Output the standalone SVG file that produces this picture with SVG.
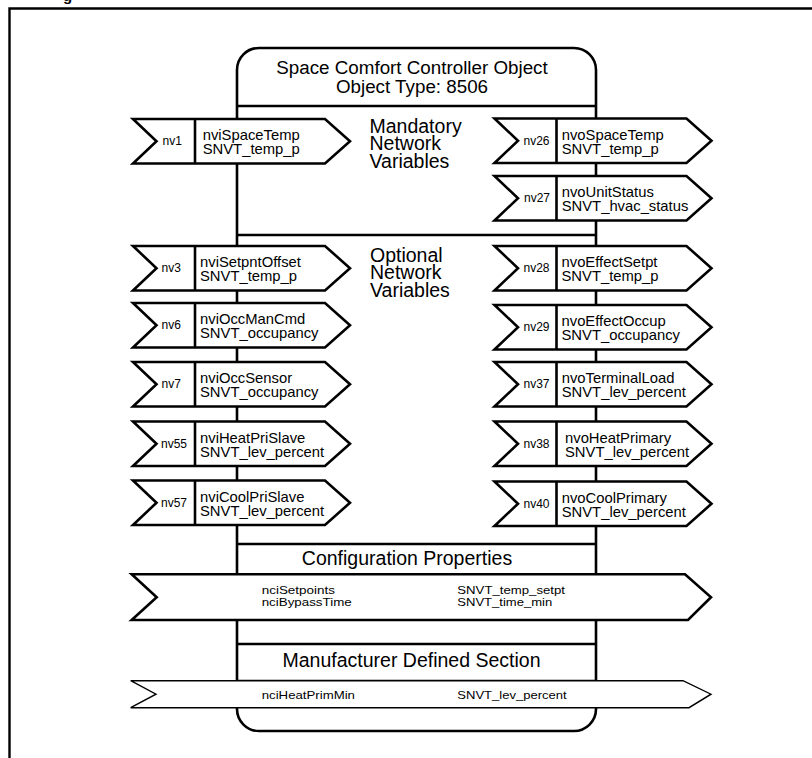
<svg xmlns="http://www.w3.org/2000/svg" width="812" height="758" viewBox="0 0 812 758">
<style>
  text { font-family: "Liberation Sans", Arial, Helvetica, sans-serif; fill: #000; }
  .frame { fill: none; stroke: #000; stroke-width: 2.4; }
  .box { fill: #fff; stroke: #000; stroke-width: 2.6; }
  .rule { stroke: #000; stroke-width: 2.6; }
  .nv { fill: #fff; stroke: #000; stroke-width: 2.6; stroke-linejoin: miter; }
  .thin { fill: #fff; stroke: #000; stroke-width: 1.4; stroke-linejoin: miter; }
  .hd { font-size: 18.8px; text-anchor: middle; }
  .sec { font-size: 19.5px; }
  .mid { text-anchor: middle; }
  .lab { font-size: 12px; }
  .nm { font-size: 14.8px; }
  .ci { font-size: 10.5px; }
</style>
<defs>
  <!-- network variable tag: notched tail, pointed head, index cell -->
  <g id="nvShape">
    <path class="nv" d="M0,0H192L217,22.25L192,44.5H0L23.5,22.25Z"/>
    <line class="rule" x1="62" y1="0" x2="62" y2="44.5"/>
  </g>
</defs>

<!-- page frame -->
<g id="frame">
  <path class="frame" d="M9.5,758V8.5H812"/>
  <text x="63" y="0.5" style="font-size:15px;font-weight:bold">g</text>
</g>

<!-- object body with section rules -->
<g id="object">
  <path class="box" d="M259,48H574A22,22 0 0 1 596,70V709A22,22 0 0 1 574,731H259A22,22 0 0 1 237,709V70A22,22 0 0 1 259,48Z"/>
  <line class="rule" x1="237" y1="106" x2="596" y2="106"/>
  <line class="rule" x1="237" y1="235" x2="596" y2="235"/>
  <line class="rule" x1="237" y1="544" x2="596" y2="544"/>
  <line class="rule" x1="237" y1="644" x2="596" y2="644"/>
  <line class="rule" x1="237" y1="681" x2="596" y2="681"/>
  <text class="hd" x="412" y="74">Space Comfort Controller Object<tspan x="412" dy="18.5">Object Type: 8506</tspan></text>
  <text class="sec" x="369.5" y="132.5">Mandatory<tspan x="369.5" dy="17.5">Network</tspan><tspan x="369.5" dy="17.5">Variables</tspan></text>
  <text class="sec" x="370" y="261.5">Optional<tspan x="370" dy="17.5">Network</tspan><tspan x="370" dy="17.5">Variables</tspan></text>
  <text class="sec mid" x="407" y="565">Configuration Properties</text>
  <text class="sec mid" x="411.5" y="667">Manufacturer Defined Section</text>
</g>

<!-- inputs -->
<g id="nv1" transform="translate(133,119)">
  <use href="#nvShape"/>
  <text class="lab" x="29.5" y="26.3">nv1</text>
  <text class="nm" x="69.7" y="21">nviSpaceTemp<tspan x="69.7" dy="14">SNVT_temp_p</tspan></text>
</g>
<g id="nv3" transform="translate(133,246)">
  <use href="#nvShape"/>
  <text class="lab" x="28.5" y="26.3">nv3</text>
  <text class="nm" x="67" y="21">nviSetpntOffset<tspan x="67" dy="14">SNVT_temp_p</tspan></text>
</g>
<g id="nv6" transform="translate(133,303)">
  <use href="#nvShape"/>
  <text class="lab" x="28.5" y="26.3">nv6</text>
  <text class="nm" x="67" y="21">nviOccManCmd<tspan x="67" dy="14">SNVT_occupancy</tspan></text>
</g>
<g id="nv7" transform="translate(133,362)">
  <use href="#nvShape"/>
  <text class="lab" x="28.5" y="26.3">nv7</text>
  <text class="nm" x="67" y="21">nviOccSensor<tspan x="67" dy="14">SNVT_occupancy</tspan></text>
</g>
<g id="nv55" transform="translate(133,421.5)">
  <use href="#nvShape"/>
  <text class="lab" x="28" y="26.3">nv55</text>
  <text class="nm" x="67" y="21">nviHeatPriSlave<tspan x="67" dy="14">SNVT_lev_percent</tspan></text>
</g>
<g id="nv57" transform="translate(133,480.5)">
  <use href="#nvShape"/>
  <text class="lab" x="28" y="26.3">nv57</text>
  <text class="nm" x="67" y="21">nviCoolPriSlave<tspan x="67" dy="14">SNVT_lev_percent</tspan></text>
</g>

<!-- outputs -->
<g id="nv26" transform="translate(494.5,118.5)">
  <use href="#nvShape"/>
  <text class="lab" x="29" y="26.3">nv26</text>
  <text class="nm" x="67.2" y="21">nvoSpaceTemp<tspan x="67.2" dy="14">SNVT_temp_p</tspan></text>
</g>
<g id="nv27" transform="translate(494.5,176)">
  <use href="#nvShape"/>
  <text class="lab" x="29.5" y="26.3">nv27</text>
  <text class="nm" x="67.2" y="21">nvoUnitStatus<tspan x="67.2" dy="14">SNVT_hvac_status</tspan></text>
</g>
<g id="nv28" transform="translate(494.5,246)">
  <use href="#nvShape"/>
  <text class="lab" x="29" y="26.3">nv28</text>
  <text class="nm" x="67" y="21">nvoEffectSetpt<tspan x="67" dy="14">SNVT_temp_p</tspan></text>
</g>
<g id="nv29" transform="translate(494.5,305)">
  <use href="#nvShape"/>
  <text class="lab" x="29" y="26.3">nv29</text>
  <text class="nm" x="67" y="21">nvoEffectOccup<tspan x="67" dy="14">SNVT_occupancy</tspan></text>
</g>
<g id="nv37" transform="translate(494.5,362)">
  <use href="#nvShape"/>
  <text class="lab" x="29" y="26.3">nv37</text>
  <text class="nm" x="67.2" y="21">nvoTerminalLoad<tspan x="67.2" dy="14">SNVT_lev_percent</tspan></text>
</g>
<g id="nv38" transform="translate(494.5,421.5)">
  <use href="#nvShape"/>
  <text class="lab" x="29" y="26.3">nv38</text>
  <text class="nm" x="70.5" y="21">nvoHeatPrimary<tspan x="70.5" dy="14">SNVT_lev_percent</tspan></text>
</g>
<g id="nv40" transform="translate(494.5,481.5)">
  <use href="#nvShape"/>
  <text class="lab" x="29" y="26.3">nv40</text>
  <text class="nm" x="67.2" y="21">nvoCoolPrimary<tspan x="67.2" dy="14">SNVT_lev_percent</tspan></text>
</g>

<!-- configuration properties -->
<g id="config">
  <path class="nv" d="M131.7,574.3H685L711,597.3L688,620H131.7L156.7,597.3Z"/>
  <text class="ci" x="261.7" y="593.5"><tspan textLength="73.3" lengthAdjust="spacingAndGlyphs">nciSetpoints</tspan><tspan x="261.7" dy="12.5" textLength="90" lengthAdjust="spacingAndGlyphs">nciBypassTime</tspan></text>
  <text class="ci" x="457.3" y="593.5"><tspan textLength="107.7" lengthAdjust="spacingAndGlyphs">SNVT_temp_setpt</tspan><tspan x="457.3" dy="12.5" textLength="95" lengthAdjust="spacingAndGlyphs">SNVT_time_min</tspan></text>
</g>

<!-- manufacturer defined -->
<g id="mfr">
  <path class="thin" d="M130.7,680.7H683L711,694.2L689,707.7H130.7L156,694.2Z"/>
  <text class="ci" x="261.7" y="698.5" textLength="93.3" lengthAdjust="spacingAndGlyphs">nciHeatPrimMin</text>
  <text class="ci" x="457.3" y="698.5" textLength="109.3" lengthAdjust="spacingAndGlyphs">SNVT_lev_percent</text>
</g>
</svg>
